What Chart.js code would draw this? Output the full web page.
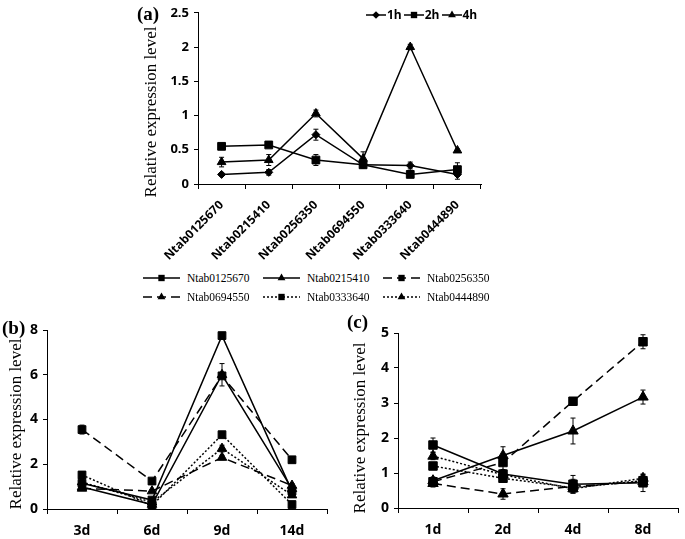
<!DOCTYPE html>
<html>
<head>
<meta charset="utf-8">
<script src="https://cdn.jsdelivr.net/npm/chart.js@4.4.0/dist/chart.umd.min.js"></script>
<style>
  body { margin: 0; background: #fff; }
  #wrap { position: relative; width: 685px; height: 539px; overflow: hidden; }
  canvas.chart { position: absolute; }
  .tag { position: absolute; font: bold 19px 'Liberation Serif', serif; line-height: 20px; color: #000; }
  .ytitle { position: absolute; width: 240px; margin-left: -120px; height: 20px; margin-top: -10px; line-height: 20px; text-align: center; white-space: nowrap;
            font: 17px 'Liberation Serif', serif; color: #000; transform: rotate(-90deg); }
  #legendA { position: absolute; left: 366px; top: 8px; display: flex; font: bold 12px 'Open Sans', sans-serif; line-height: 14px; color: #000; }
  #legendA .item { display: flex; align-items: center; margin-right: 2px; }
  #legendA canvas { margin-right: 1px; }
  #legendShared { position: absolute; left: 143px; top: 268px; display: grid; grid-template-columns: 120px 120px 120px; grid-auto-rows: 19px; font: 11.5px 'Liberation Serif', serif; color: #000; }
  #legendShared .item { display: flex; align-items: center; }
  #legendShared canvas { margin-right: 7px; }
</style>
</head>
<body>
<div id="wrap">
  <canvas id="chartA" class="chart" width="360" height="265" style="left:130px;top:0px"></canvas>
  <canvas id="chartB" class="chart" width="340" height="224" style="left:0px;top:315px"></canvas>
  <canvas id="chartC" class="chart" width="345" height="224" style="left:340px;top:315px"></canvas>
  <div class="ytitle" style="left:151px;top:112px">Relative expression level</div>
  <div class="ytitle" style="left:16px;top:424px">Relative expression level</div>
  <div class="ytitle" style="left:360px;top:428px">Relative expression level</div>
  <div class="tag" style="left:137px;top:4px">(a)</div>
  <div class="tag" style="left:2px;top:318px">(b)</div>
  <div class="tag" style="left:347px;top:312px">(c)</div>
  <div id="legendA"></div>
  <div id="legendShared"></div>
</div>
<script>
// panel (a): six genes, three time points
const genes = ['Ntab0125670', 'Ntab0215410', 'Ntab0256350', 'Ntab0694550', 'Ntab0333640', 'Ntab0444890'];
const hours = ['1h', '2h', '4h'];
const a1h = [0.14, 0.17, 0.72, 0.28, 0.27, 0.14];
const a2h = [0.55, 0.57, 0.35, 0.28, 0.14, 0.21];
const a4h = [0.32, 0.35, 1.03, 0.37, 2.0, 0.49];
const a1hErr = [0.02, 0.04, 0.08, 0.03, 0.05, 0.07];
const a2hErr = [0.02, 0.03, 0.08, 0.05, 0.03, 0.1];
const a4hErr = [0.07, 0.08, 0.05, 0.1, 0.04, 0.02];

// panel (b)
const daysB = ['3d', '6d', '9d', '14d'];
const b0125670 = [1.15, 0.4, 7.75, 0.8];
const b0215410 = [0.98, 0.2, 6.0, 0.9];
const b0256350 = [3.55, 1.25, 5.95, 2.2];
const b0694550 = [0.92, 0.8, 2.3, 1.05];
const b0333640 = [1.52, 0.15, 3.32, 0.2];
const b0444890 = [1.2, 0.3, 2.7, 0.62];
const bErr = [
  [0.1, 0.05, 0.1, 0.1],
  [0.1, 0.05, 0.5, 0.1],
  [0.2, 0.08, 0.1, 0.08],
  [0.08, 0.06, 0.1, 0.08],
  [0.08, 0.05, 0.08, 0.05],
  [0.08, 0.05, 0.15, 0.08],
];

// panel (c)
const daysC = ['1d', '2d', '4d', '8d'];
const c0125670 = [1.8, 0.97, 0.68, 0.72];
const c0215410 = [0.78, 1.5, 2.2, 3.17];
const c0256350 = [0.75, 1.3, 3.05, 4.75];
const c0694550 = [0.7, 0.4, 0.62, 0.75];
const c0333640 = [1.2, 0.85, 0.58, 0.78];
const c0444890 = [1.48, 0.95, 0.55, 0.85];
const cErr = [
  [0.2, 0.1, 0.25, 0.25],
  [0.1, 0.25, 0.37, 0.2],
  [0.1, 0.2, 0.08, 0.2],
  [0.1, 0.15, 0.2, 0.1],
  [0.1, 0.1, 0.1, 0.1],
  [0.1, 0.1, 0.1, 0.1],
];

const geneStyles = [
  { dash: [], point: 'rect' },
  { dash: [], point: 'triangle' },
  { dash: [9, 5], point: 'rect' },
  { dash: [9, 5], point: 'triangle' },
  { dash: [2, 2], point: 'rect' },
  { dash: [2, 2], point: 'triangle' },
];
const hourStyles = ['rectRot', 'rect', 'triangle'];

const tickFont = "'Open Sans', sans-serif";

const errorBars = {
  id: 'errorBars',
  afterDatasetsDraw(chart) {
    const ctx = chart.ctx;
    const yScale = chart.scales.y;
    chart.data.datasets.forEach(function (ds, i) {
      if (!ds.errors) {
        return;
      }
      const meta = chart.getDatasetMeta(i);
      meta.data.forEach(function (pt, j) {
        const e = ds.errors[j];
        if (!e) {
          return;
        }
        const top = yScale.getPixelForValue(ds.data[j] + e);
        const bot = yScale.getPixelForValue(Math.max(ds.data[j] - e, 0));
        ctx.save();
        ctx.strokeStyle = '#000';
        ctx.lineWidth = 1;
        ctx.beginPath();
        ctx.moveTo(pt.x, top);
        ctx.lineTo(pt.x, bot);
        ctx.moveTo(pt.x - 2.5, top);
        ctx.lineTo(pt.x + 2.5, top);
        ctx.moveTo(pt.x - 2.5, bot);
        ctx.lineTo(pt.x + 2.5, bot);
        ctx.stroke();
        ctx.restore();
      });
    });
  },
};

function lineSet(label, data, errors, dash, point, radius) {
  return {
    label: label,
    data: data,
    errors: errors,
    borderColor: '#000',
    borderWidth: 1.5,
    borderDash: dash,
    pointStyle: point,
    pointRadius: radius,
    pointBackgroundColor: '#000',
    pointBorderColor: '#000',
    pointBorderWidth: 1,
    tension: 0,
    fill: false,
  };
}

function makeChart(id, labels, datasets, o) {
  return new Chart(document.getElementById(id), {
    type: 'line',
    data: { labels: labels, datasets: datasets },
    plugins: [errorBars],
    options: {
      responsive: false,
      animation: false,
      layout: { padding: o.padding },
      plugins: { legend: { display: false }, tooltip: { enabled: false } },
      scales: {
        x: {
          offset: true,
          grid: { display: true, offset: true, drawOnChartArea: false, drawTicks: true, tickLength: 5, color: '#000' },
          border: { display: true, color: '#000', width: 1 },
          ticks: {
            color: '#000',
            autoSkip: false,
            minRotation: o.rotation,
            maxRotation: o.rotation,
            padding: o.xPad,
            font: { family: tickFont, weight: 'bold', size: o.xSize },
          },
          afterFit: function (s) { s.height = o.xHeight; },
        },
        y: {
          min: 0,
          max: o.max,
          grid: { display: true, drawOnChartArea: false, drawTicks: true, tickLength: 4, color: '#000' },
          border: { display: true, color: '#000', width: 1 },
          ticks: {
            stepSize: o.step,
            color: '#000',
            padding: 5,
            font: { family: tickFont, weight: 'bold', size: o.ySize },
            callback: function (v) { return v; },
          },
          afterFit: function (s) { s.width = o.yWidth; },
        },
      },
    },
  });
}

function drawMarker(ctx, style, r, x, y) {
  ctx.beginPath();
  if (style === 'rect') {
    const s = r * Math.SQRT1_2;
    ctx.rect(x - s, y - s, 2 * s, 2 * s);
  } else if (style === 'rectRot') {
    const s = r * Math.SQRT1_2 * 1.2;
    ctx.moveTo(x, y - s); ctx.lineTo(x + s, y); ctx.lineTo(x, y + s); ctx.lineTo(x - s, y);
    ctx.closePath();
  } else {
    const h = r * 1.5;
    ctx.moveTo(x, y - r);
    ctx.lineTo(x + h / Math.sqrt(3), y + r / 2);
    ctx.lineTo(x - h / Math.sqrt(3), y + r / 2);
    ctx.closePath();
  }
  ctx.fill();
}

function buildLegend(el, datasets, w, h, r) {
  datasets.forEach(function (ds) {
    const item = document.createElement('div');
    item.className = 'item';
    const c = document.createElement('canvas');
    c.width = w;
    c.height = h;
    const ctx = c.getContext('2d');
    ctx.strokeStyle = '#000';
    ctx.fillStyle = '#000';
    ctx.lineWidth = 1.5;
    ctx.setLineDash(ds.borderDash || []);
    ctx.beginPath();
    ctx.moveTo(0, h / 2);
    ctx.lineTo(w, h / 2);
    ctx.stroke();
    ctx.setLineDash([]);
    drawMarker(ctx, ds.pointStyle, r, w / 2, h / 2);
    const span = document.createElement('span');
    span.textContent = ds.label;
    item.appendChild(c);
    item.appendChild(span);
    el.appendChild(item);
  });
}

const setsA = [
  lineSet(hours[0], a1h, a1hErr, [], hourStyles[0], 4),
  lineSet(hours[1], a2h, a2hErr, [], hourStyles[1], 5.5),
  lineSet(hours[2], a4h, a4hErr, [], hourStyles[2], 5),
];
makeChart('chartA', genes, setsA, {
  padding: { top: 11, right: 9, left: 0, bottom: 0 },
  max: 2.5, step: 0.5, ySize: 13, xSize: 12, rotation: 45, xPad: 9, xHeight: 81,
  yWidth: 68,
});

const valuesB = [b0125670, b0215410, b0256350, b0694550, b0333640, b0444890];
const setsB = genes.map(function (g, i) {
  return lineSet(g, valuesB[i], bErr[i], geneStyles[i].dash, geneStyles[i].point, 5.5);
});
makeChart('chartB', daysB, setsB, {
  padding: { top: 15, right: 13, left: 0, bottom: 0 },
  max: 8, step: 2, ySize: 14, xSize: 14, rotation: 0, xPad: 9, xHeight: 30,
  yWidth: 47,
});

const valuesC = [c0125670, c0215410, c0256350, c0694550, c0333640, c0444890];
const setsC = genes.map(function (g, i) {
  return lineSet(g, valuesC[i], cErr[i], geneStyles[i].dash, geneStyles[i].point, 6);
});
makeChart('chartC', daysC, setsC, {
  padding: { top: 18, right: 2, left: 0, bottom: 0 },
  max: 5, step: 1, ySize: 14, xSize: 14, rotation: 0, xPad: 9, xHeight: 31,
  yWidth: 58,
});

buildLegend(document.getElementById('legendA'), setsA, 20, 12, 4.5);
buildLegend(document.getElementById('legendShared'), setsB, 37, 12, 4.5);
</script>
</body>
</html>
